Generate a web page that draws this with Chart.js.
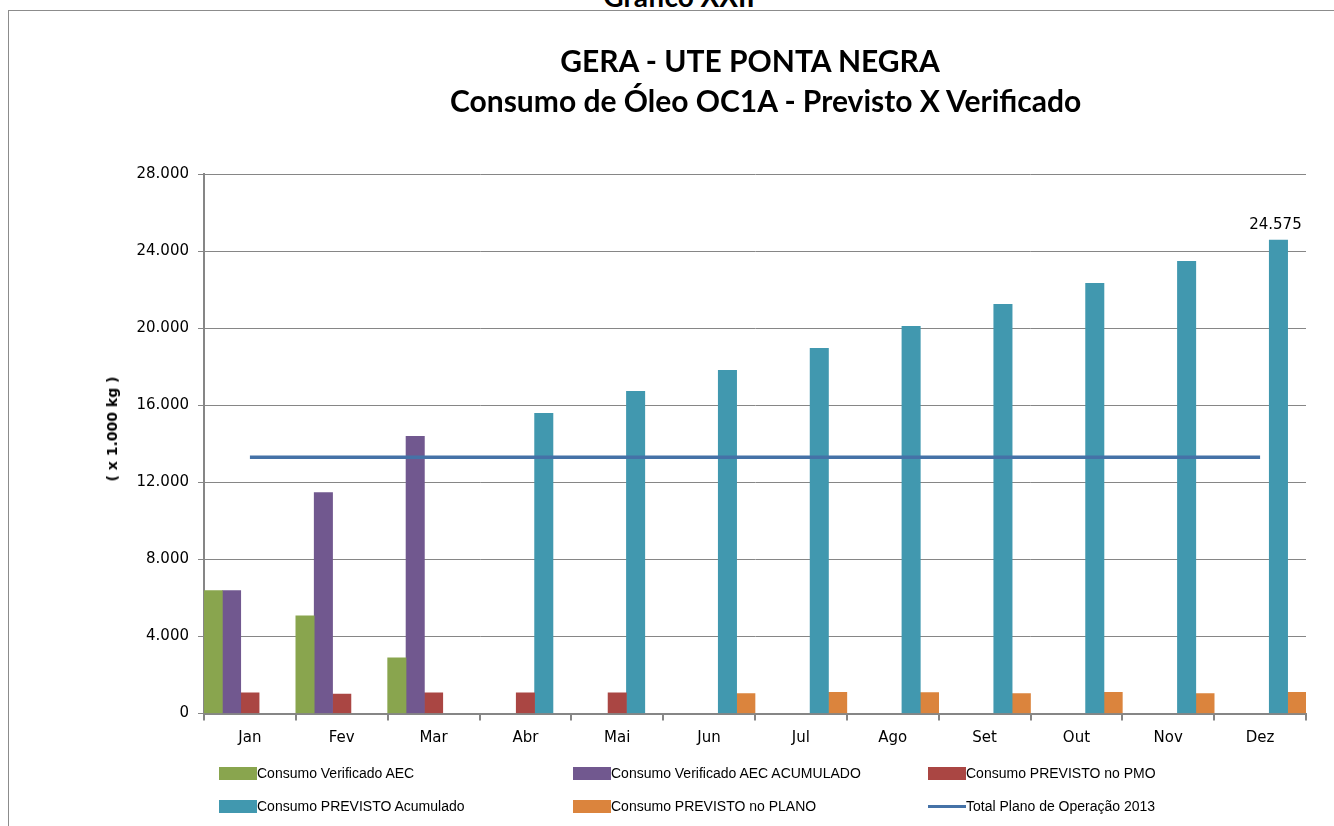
<!DOCTYPE html>
<html>
<head>
<meta charset="utf-8">
<script src="https://cdn.jsdelivr.net/npm/chart.js@4.4.1/dist/chart.umd.min.js"></script>
<style>
  html, body { margin:0; padding:0; background:#fff; overflow:hidden; }
  body { width:1334px; height:826px; position:relative; }
  #frame { position:absolute; left:8px; top:10px; width:1340px; height:830px; border:1.5px solid #8c8c8c; box-sizing:border-box; }
  #sup { position:absolute; left:0; width:1358px; top:-18px; text-align:center; font:bold 28px Lato, sans-serif; line-height:1; color:#000; }
  #c { position:absolute; left:0; top:0; }
  #titles { position:absolute; left:450px; width:600px; top:40px; text-align:center; font-family:Lato, sans-serif; font-weight:bold; font-size:30px; line-height:40px; color:#000; white-space:nowrap; }
  #ytitle { position:absolute; left:112px; top:429px; transform:translate(-50%,-50%) rotate(-90deg); font:bold 14px "DejaVu Sans", sans-serif; color:#000; white-space:nowrap; }
  .leg { position:absolute; font:14px "Liberation Sans", Arial, sans-serif; color:#000; white-space:nowrap; display:flex; align-items:center; height:16px; }
  .leg .sw { width:38px; height:13px; display:inline-block; }
  .leg .ln { width:38px; height:3px; display:inline-block; }
</style>
</head>
<body>
<div id="sup">Gráfico XXII</div>
<div id="frame"></div>
<canvas id="c" width="1334" height="826"></canvas>
<div id="titles">GERA - UTE PONTA NEGRA<br>Consumo de Óleo OC1A - Previsto X Verificado</div>
<div id="ytitle">( x 1.000 kg )</div>
<div id="legend"></div>
<script>
const categories = ['Jan','Fev','Mar','Abr','Mai','Jun','Jul','Ago','Set','Out','Nov','Dez'];
const verificadoAEC = [6380, 5070, 2890, null, null, null, null, null, null, null, null, null];
const verificadoAcumulado = [6380, 11470, 14380, null, null, null, null, null, null, null, null, null];
const previstoPMO = [1070, 1010, 1070, 1070, 1070, null, null, null, null, null, null, null];
const previstoAcumulado = [null, null, null, 15580, 16720, 17810, 18950, 20090, 21240, 22330, 23470, 24575];
const previstoPlano = [null, null, null, null, null, 1040, 1100, 1090, 1040, 1100, 1040, 1100];
const totalPlano = [13300, 13300, 13300, 13300, 13300, 13300, 13300, 13300, 13300, 13300, 13300, 13300];
const yTicks = [0, 4000, 8000, 12000, 16000, 20000, 24000, 28000];
const seriesNames = ['Consumo Verificado AEC','Consumo Verificado AEC ACUMULADO','Consumo PREVISTO no PMO','Consumo PREVISTO Acumulado','Consumo PREVISTO no PLANO','Total Plano de Operação 2013'];
const colors = ['#89A54E','#71588F','#AA4643','#4198AF','#DB843D','#4572A7'];

function fmt(v){ return String(Math.round(v)).replace(/\B(?=(\d{3})+(?!\d))/g, '.'); }

const labelPlugin = {
  id:'lastLabel',
  afterDatasetsDraw(chart){
    const meta = chart.getDatasetMeta(3);
    const idx = previstoAcumulado.length - 1;
    const el = meta.data[idx];
    const ctx = chart.ctx;
    ctx.save();
    ctx.font = '15px "DejaVu Sans", sans-serif';
    ctx.fillStyle = '#000';
    ctx.textAlign = 'center';
    ctx.textBaseline = 'alphabetic';
    ctx.fillText(fmt(previstoAcumulado[idx]), el.x - 3, el.y - 11);
    ctx.restore();
  }
};

const barSets = [verificadoAEC, verificadoAcumulado, previstoPMO, previstoAcumulado, previstoPlano].map((d,i)=>({
  type:'bar', label:seriesNames[i], data:d, backgroundColor:colors[i], borderWidth:0,
  categoryPercentage:1.0, barPercentage:1.0, order:1
}));

new Chart(document.getElementById('c'), {
  data:{
    labels:categories,
    datasets:[...barSets, {
      type:'line', label:seriesNames[5], data:totalPlano, borderColor:colors[5], backgroundColor:colors[5],
      borderWidth:3.5, pointRadius:0, tension:0, order:0
    }]
  },
  options:{
    responsive:false, animation:false, devicePixelRatio:1,
    layout:{ padding:{ top:174, right:28, left:0, bottom:0 } },
    plugins:{ legend:{display:false}, tooltip:{enabled:false}, title:{display:false} },
    scales:{
      x:{
        offset:true,
        grid:{ display:true, drawOnChartArea:false, drawTicks:true, tickLength:7, color:'#868686', lineWidth:2, offset:true },
        border:{ display:true, color:'#868686', width:2 },
        ticks:{ color:'#000', font:{ family:'DejaVu Sans', size:15 }, padding:9, maxRotation:0 },
        afterFit(s){ s.height = 826 - 713.5; }
      },
      y:{
        min:0, max:28000,
        afterBuildTicks(s){ s.ticks = yTicks.map(v=>({value:v})); },
        grid:{ color:'#868686', lineWidth:1, drawTicks:true, tickLength:6 },
        border:{ display:true, color:'#868686', width:2 },
        ticks:{ color:'#000', font:{ family:'DejaVu Sans', size:15 }, padding:9, callback:(v)=>fmt(v) },
        afterFit(s){ s.width = 204; }
      }
    }
  },
  plugins:[labelPlugin]
});

const legendPos = [[219,766],[573,766],[928,766],[219,799],[573,799],[928,799]];
const leg = document.getElementById('legend');
seriesNames.forEach((n,i)=>{
  const d = document.createElement('div');
  d.className = 'leg';
  d.style.left = legendPos[i][0] + 'px';
  d.style.top = (legendPos[i][1] - 1) + 'px';
  const sw = document.createElement('span');
  sw.className = i === 5 ? 'ln' : 'sw';
  sw.style.background = colors[i];
  const t = document.createElement('span');
  t.textContent = n;
  d.appendChild(sw); d.appendChild(t);
  leg.appendChild(d);
});
</script>
</body>
</html>
